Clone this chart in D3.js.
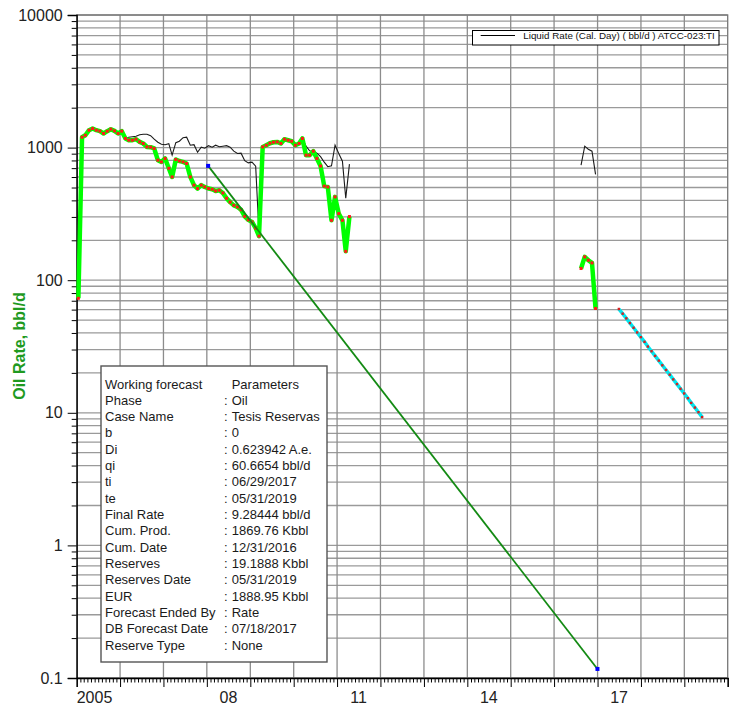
<!DOCTYPE html>
<html><head><meta charset="utf-8">
<script src="https://cdn.jsdelivr.net/npm/d3@7"></script>
<style>body{margin:0;background:#fff}svg{display:block;font-family:Arial,"Liberation Sans",sans-serif}</style>
</head><body><svg id="c" width="730" height="708"></svg>
<script>
// ---------- data ----------
const oilStartMonth = "2005-01";
const oilRate = [73,1198,1240,1353,1393,1353,1330,1278,1330,1377,1337,1278,1330,
  1172,1137,1137,1157,1104,1074,1012,1007,985,804,780,828,698,
  601,814,793,780,759,601,521,491,521,505,491,485,471,
  477,455,415,388,367,357,340,303,285,275,247,215,
  1012,1042,1079,1098,1104,1074,1157,1137,1117,1042,1074,1172,
  877,877,940,828,726,512,505,283,425,318,283,165,302];
const liquidRate = [73,1198,1240,1353,1393,1353,1330,1278,1330,1377,1337,1278,1330,
  1177,1198,1208,1219,1251,1262,1262,1230,1157,1098,1061,1052,1070,877,1089,1117,1188,1198,
  1042,1052,923,1007,990,1034,1007,1042,1016,1025,1034,1007,940,903,908,797,767,776,724,226,
  1012,1042,1079,1098,1104,1074,1157,1137,1117,1042,1074,1172,
  1025,947,940,908,854,776,718,730,1042,903,790,415,750];
const oilStartMonth2 = "2016-08";
const oilRate2 = [122.5,150,141.5,135,61.2];
const liquidRate2 = [737,1025,973,940,629];
const oldForecastDates = ["2008-01-12","2016-12-31"];
const oldForecastRates = [728,0.117];
const forecastDates = ["2017-06-29","2017-07-31","2017-08-31","2017-09-30","2017-10-31","2017-11-30","2017-12-31",
  "2018-01-31","2018-02-28","2018-03-31","2018-04-30","2018-05-31","2018-06-30","2018-07-31","2018-08-31",
  "2018-09-30","2018-10-31","2018-11-30","2018-12-31","2019-01-31","2019-02-28","2019-03-31","2019-04-30","2019-05-31"];
const forecastRates = [60.67,55.92,51.54,47.51,43.79,40.36,37.20,34.29,31.60,29.13,26.85,24.75,
  22.81,21.03,19.38,17.86,16.47,15.18,13.99,12.89,11.88,10.95,10.10,9.28];
const yMajorTicks = [0.1,1,10,100,1000,10000];
const yTickLabels = ["0.1","1","10","100","1000","10000"];
const xLabelYears = [2005,2008,2011,2014,2017];
const xLabels = ["2005","08","11","14","17"];
const yAxisTitle = "Oil Rate, bbl/d";
const legendLabel = "Liquid Rate (Cal. Day) ( bbl/d ) ATCC-023:TI";
const infoKeys = ["Working forecast","Phase","Case Name","b","Di","qi","ti","te","Final Rate","Cum. Prod.",
  "Cum. Date","Reserves","Reserves Date","EUR","Forecast Ended By","DB Forecast Date","Reserve Type"];
const infoVals = ["Parameters","Oil","Tesis Reservas","0","0.623942 A.e.","60.6654 bbl/d","06/29/2017","05/31/2019",
  "9.28444 bbl/d","1869.76 Kbbl","12/31/2016","19.1888 Kbbl","05/31/2019","1888.95 Kbbl","Rate","07/18/2017","None"];

// ---------- setup ----------
const svg = d3.select("#c");
const L = 76.7, R = 727.7, T = 15, B = 678;
const x = d3.scaleTime().domain([new Date(2005,0,1), new Date(2020,0,1)]).range([L, R]);
const y = d3.scaleLog().domain([0.1, 10000]).range([B, T]);
const pm = d3.timeParse("%Y-%m"), pd = d3.timeParse("%Y-%m-%d");
const monthly = (start, vals) => { const s = pm(start); return vals.map((v,i)=>({date:new Date(s.getFullYear(), s.getMonth()+i, 15), v})); };

const oil1 = monthly(oilStartMonth, oilRate), liq1 = monthly(oilStartMonth, liquidRate);
const oil2 = monthly(oilStartMonth2, oilRate2), liq2 = monthly(oilStartMonth2, liquidRate2);
const oldFc = oldForecastDates.map((d,i)=>({date:pd(d), v:oldForecastRates[i]}));
const fc = forecastDates.map((d,i)=>({date:pd(d), v:forecastRates[i]}));

// grid values
const minorVals = [];
yMajorTicks.slice(0,-1).forEach(d=>{ for(let k=2;k<=9;k++) minorVals.push(d*k); });
const gridY = yMajorTicks.concat(minorVals);
const years = d3.range(2006, 2020).map(yr=>new Date(yr,0,1));

const grid = svg.append("g");
grid.selectAll("line.h").data(gridY).join("line")
  .attr("x1", L).attr("x2", R).attr("y1", d=>y(d)).attr("y2", d=>y(d))
  .attr("stroke", "#9a9a9a").attr("stroke-width", 1.3);
grid.selectAll("line.v").data(years).join("line")
  .attr("y1", T).attr("y2", B).attr("x1", d=>x(d)).attr("x2", d=>x(d))
  .attr("stroke", "#8c8c8c").attr("stroke-width", 1.3);
svg.append("rect").attr("x", L).attr("y", T).attr("width", R-L).attr("height", B-T)
  .attr("fill", "none").attr("stroke", "#777").attr("stroke-width", 1.3);

// axes
const ax = svg.append("g").attr("transform", `translate(${L},0)`)
  .call(d3.axisLeft(y).tickValues(yMajorTicks).tickSize(9).tickPadding(5).tickFormat((d,i)=>yTickLabels[i]));
ax.selectAll("text").attr("font-size", 16).attr("fill", "#222").attr("font-family", "Arial, Liberation Sans, sans-serif");
const axm = svg.append("g").attr("transform", `translate(${L},0)`)
  .call(d3.axisLeft(y).tickValues(minorVals).tickSize(5).tickFormat(""));
axm.select(".domain").remove();
const bx = svg.append("g").attr("transform", `translate(0,${B})`)
  .call(d3.axisBottom(x).tickValues([new Date(2005,0,1)].concat(years, [new Date(2020,0,1)])).tickSize(9).tickFormat(""));
const months = d3.timeMonth.range(new Date(2005,0,1), new Date(2020,0,1)).filter(d=>d.getMonth()!==0);
const bxm = svg.append("g").attr("transform", `translate(0,${B})`)
  .call(d3.axisBottom(x).tickValues(months).tickSize(4.5).tickFormat(""));
bxm.select(".domain").remove();
svg.selectAll(".domain").attr("stroke", "#000").attr("stroke-width", 1.3);
svg.selectAll(".tick line").attr("stroke", "#000");

svg.append("g").selectAll("text").data(xLabelYears).join("text")
  .attr("x", (d,i)=> i===0 ? L : x(new Date(d,6,1)))
  .attr("y", 702.5).attr("text-anchor", (d,i)=> i===0 ? "start" : "middle")
  .attr("font-size", 16).attr("fill", "#222").text((d,i)=>xLabels[i]);

svg.append("text").attr("transform", "translate(25,346) rotate(-90)")
  .attr("text-anchor", "middle").attr("font-size", 16).attr("font-weight", "bold")
  .attr("fill", "#1f9a1f").text(yAxisTitle);

// series
const line = d3.line().x(d=>x(d.date)).y(d=>y(d.v));
const plot = svg.append("g");
[liq1, liq2].forEach(s=>plot.append("path").attr("d", line(s)).attr("fill","none")
  .attr("stroke","#1a1a1a").attr("stroke-width",1.1));
[oil1, oil2].forEach(s=>plot.append("path").attr("d", line(s)).attr("fill","none")
  .attr("stroke","#00ff00").attr("stroke-width",4.5).attr("stroke-linejoin","round"));
plot.selectAll("rect.oil").data(oil1.concat(oil2)).join("rect")
  .attr("x", d=>x(d.date)-1.5).attr("y", d=>y(d.v)-1.5).attr("width",3).attr("height",3).attr("fill","#ff1a1a");
plot.append("path").attr("d", line(oldFc)).attr("fill","none").attr("stroke","#138a13").attr("stroke-width",1.8);
plot.selectAll("rect.ofc").data(oldFc).join("rect")
  .attr("x", d=>x(d.date)-2).attr("y", d=>y(d.v)-2).attr("width",4).attr("height",4).attr("fill","#0000ff");
plot.append("path").attr("d", line(fc)).attr("fill","none").attr("stroke","#00e8f0").attr("stroke-width",3.5);
plot.selectAll("rect.fc").data(fc).join("rect")
  .attr("x", d=>x(d.date)-1.2).attr("y", d=>y(d.v)-1.2).attr("width",2.4).attr("height",2.4).attr("fill","#d42020");

// legend
const lg = svg.append("g");
lg.append("rect").attr("x",472.5).attr("y",30.5).attr("width",246.5).attr("height",14.5)
  .attr("fill","#fff").attr("stroke","#000").attr("stroke-width",1);
lg.append("line").attr("x1",480.7).attr("x2",515).attr("y1",35.5).attr("y2",35.5).attr("stroke","#000").attr("stroke-width",1);
lg.append("text").attr("x",523.3).attr("y",39.3).attr("font-size",9.8).attr("fill","#111").text(legendLabel);

// info box
const ib = svg.append("g");
ib.append("rect").attr("x",101).attr("y",366).attr("width",226).attr("height",296)
  .attr("fill","#fff").attr("stroke","#555").attr("stroke-width",1.4);
ib.selectAll("text.k").data(infoKeys).join("text").attr("class","k")
  .attr("x",105).attr("y",(d,i)=>388.5+i*16.33).attr("font-size",13).attr("fill","#1a1a1a").text(d=>d);
ib.selectAll("text.c").data(infoKeys.slice(1)).join("text").attr("class","c")
  .attr("x",224).attr("y",(d,i)=>388.5+(i+1)*16.33).attr("font-size",13).attr("fill","#1a1a1a").text(":");
ib.selectAll("text.v").data(infoVals).join("text").attr("class","v")
  .attr("x",231.7).attr("y",(d,i)=>388.5+i*16.33).attr("font-size",13).attr("fill","#1a1a1a").text(d=>d);
</script></body></html>
